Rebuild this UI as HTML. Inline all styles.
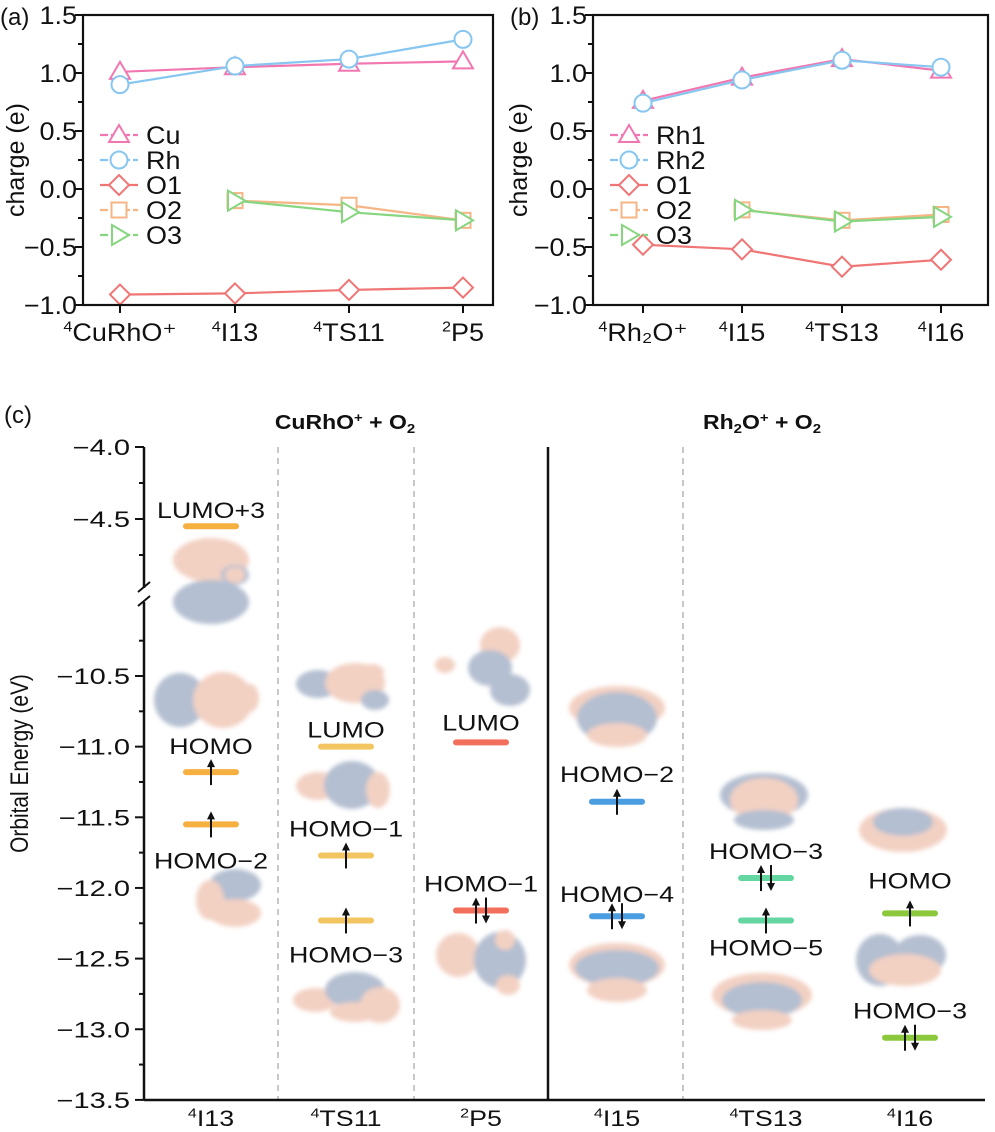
<!DOCTYPE html>
<html><head><meta charset="utf-8">
<style>
html,body{margin:0;padding:0;background:#fff;}
svg{display:block;font-family:"Liberation Sans",Arial,sans-serif;}
</style></head>
<body>
<svg id="fig" width="995" height="1132" viewBox="0 0 995 1132" xmlns="http://www.w3.org/2000/svg">
<defs>
<filter id="blur" x="-30%" y="-30%" width="160%" height="160%"><feGaussianBlur stdDeviation="2.2"/></filter>
</defs>
<g id="pa"></g>
<g id="pb"></g>
<g id="pc"></g>
</svg>
<script>
// ---------- Panel (a) / (b) data ----------
const catsA = ["4|CuRhO⁺", "4|I13", "4|TS11", "2|P5"];
const cuA = [1.01, 1.05, 1.08, 1.10];
const rhA = [0.90, 1.06, 1.12, 1.29];
const o1A = [-0.91, -0.90, -0.87, -0.85];
const o2A = [null, -0.10, -0.14, -0.27];
const o3A = [null, -0.10, -0.20, -0.27];
const namesA = ["Cu", "Rh", "O1", "O2", "O3"];

const catsB = ["4|Rh₂O⁺", "4|I15", "4|TS13", "4|I16"];
const rh1B = [0.76, 0.96, 1.12, 1.02];
const rh2B = [0.74, 0.94, 1.11, 1.05];
const o1B = [-0.48, -0.52, -0.67, -0.61];
const o2B = [null, -0.18, -0.27, -0.22];
const o3B = [null, -0.18, -0.28, -0.24];
const namesB = ["Rh1", "Rh2", "O1", "O2", "O3"];

const chargeTicks = [1.5, 1.0, 0.5, 0.0, -0.5, -1.0];

// ---------- Panel (c) data ----------
const statesC = ["4|I13", "4|TS11", "2|P5", "4|I15", "4|TS13", "4|I16"];
const levelColumn = [0, 0, 0, 1, 1, 1, 2, 2, 3, 3, 4, 4, 5, 5];
const levelEnergy = [-4.55, -11.18, -11.55, -11.00, -11.77, -12.23, -10.97, -12.16, -11.39, -12.20, -11.93, -12.23, -12.18, -13.06];
const levelName = ["LUMO+3", "HOMO", "HOMO−2", "LUMO", "HOMO−1", "HOMO−3", "LUMO", "HOMO−1", "HOMO−2", "HOMO−4", "HOMO−3", "HOMO−5", "HOMO", "HOMO−3"];
const levelSpin = [0, 1, 1, 0, 1, 1, 0, 2, 1, 2, 2, 1, 1, 2];
const energyTicks = [-4.0, -4.5, -10.5, -11.0, -11.5, -12.0, -12.5, -13.0, -13.5];

const NS = "http://www.w3.org/2000/svg";
function mk(parent, tag, attrs, text) {
  const e = document.createElementNS(NS, tag);
  for (const k in attrs) e.setAttribute(k, attrs[k]);
  if (text !== undefined) e.textContent = text;
  parent.appendChild(e);
  return e;
}
function supLabel(parent, x, y, lab, size, anchor, sx) {
  const [sup, main] = lab.split("|");
  const t = mk(parent, "text", {transform: `translate(${x},${y}) scale(${sx||1},1)`, "text-anchor": anchor||"middle", "font-size": size, fill: "#111"});
  mk(t, "tspan", {"font-size": size*0.6, dy: -size*0.38}, sup);
  mk(t, "tspan", {dy: size*0.38}, main);
  return t;
}

const colors = ["#f277b0", "#86c6f0", "#f07575", "#f5b585", "#86d680"];
const shapes = ["tri", "circ", "diam", "sq", "rtri"];
function marker(g, shape, x, y, col) {
  let el;
  if (shape === "tri") el = mk(g, "polygon", {points: `${x},${y-10} ${x-10},${y+7} ${x+10},${y+7}`});
  else if (shape === "circ") el = mk(g, "circle", {cx: x, cy: y, r: 8.5});
  else if (shape === "diam") el = mk(g, "polygon", {points: `${x},${y-10} ${x+10},${y} ${x},${y+10} ${x-10},${y}`});
  else if (shape === "sq") el = mk(g, "rect", {x: x-7.5, y: y-7.5, width: 15, height: 15});
  else el = mk(g, "polygon", {points: `${x-7},${y-10} ${x+10},${y} ${x-7},${y+10}`});
  el.setAttribute("fill", "#fff");
  el.setAttribute("stroke", col);
  el.setAttribute("stroke-width", "2");
  return el;
}

function chargePanel(g, box, cats, series, names, letter, titleX) {
  const [L, T, R, B] = box;
  const xs = [box[4], box[5], box[6], box[7]];
  const yS = v => T + (1.5 - v) / 2.5 * (B - T);
  const xS = i => xs[i];
  series.forEach((arr, si) => {
    const sg = mk(g, "g", {});
    
    
    let pts = [];
    arr.forEach((v, i) => { if (v !== null) pts.push([xS(i), yS(v)]); });
    mk(sg, "polyline", {points: pts.map(p => p.join(",")).join(" "), fill: "none", stroke: colors[si], "stroke-width": 2.2});
    pts.forEach(p => marker(sg, shapes[si], p[0], p[1], colors[si]));
  });
  const fr = mk(g, "rect", {x: L, y: T, width: R - L, height: B - T, fill: "none", stroke: "#111", "stroke-width": 2.2});
  
  
  for (let v = -1.0; v <= 1.5001; v += 0.25) {
    const y = yS(v);
    const major = Math.abs(v * 2 - Math.round(v * 2)) < 1e-6;
    mk(g, "line", {x1: L - (major ? 8 : 5), x2: L, y1: y, y2: y, stroke: "#111", "stroke-width": 2});
  }
  chargeTicks.forEach(v => {
    const t = mk(g, "text", {transform: `translate(${L - 6},${yS(v) + 9}) scale(1.08,1)`, "text-anchor": "end", "font-size": 25, fill: "#111"}, (v < 0 ? "−" : "") + Math.abs(v).toFixed(1));
    
    
  });
  cats.forEach((c, i) => {
    mk(g, "line", {x1: xS(i), x2: xS(i), y1: B, y2: B + 8, stroke: "#111", "stroke-width": 2});
    const t = supLabel(g, xS(i), B + 36, c, 25, "middle", 1.08);
    
    
  });
  const yt = mk(g, "text", {transform: `translate(${titleX},${(T + B) / 2}) rotate(-90)`, "text-anchor": "middle", "font-size": 25, fill: "#111"}, "charge (e)");
  
  
  const pl = mk(g, "text", {x: L - 83, y: T + 10, "font-size": 24, fill: "#111"}, letter);
  
  
  const lg = mk(g, "g", {});
  
  
  names.forEach((n, i) => {
    const y = 135 + i * 25;
    const x0 = L + 17;
    mk(lg, "line", {x1: x0, x2: x0 + 38, y1: y, y2: y, stroke: colors[i], "stroke-width": 2.2, "stroke-dasharray": (i===2)?"none":"8 3"});
    marker(lg, shapes[i], x0 + 19, y, colors[i]);
    const t = mk(lg, "text", {transform: `translate(${x0 + 46},${y + 9}) scale(1.08,1)`, "font-size": 25, fill: "#111"}, n);
    
    
  });
}

chargePanel(document.getElementById("pa"), [83, 15, 493, 305, 120, 235, 349, 463], catsA, [cuA, rhA, o1A, o2A, o3A], namesA, "(a)", 24);
chargePanel(document.getElementById("pb"), [593, 15, 988, 305, 643, 742, 842, 941], catsB, [rh1B, rh2B, o1B, o2B, o3B], namesB, "(b)", 527);

// ---------- Panel (c) ----------
const gc = document.getElementById("pc");
const AX = 144, TOP = 447, BOT = 1100, RIGHT = 985;
const SX = 1.22;
function yE(E) {
  if (E > -6) return 447 + (-4 - E) * 144;
  return 676 + (-10.5 - E) * 141.3;
}
const colX = [211, 346, 481, 617, 766, 910];
const colColor = ["#f5b040", "#f3c560", "#f26f5c", "#4a9de0", "#63d6a2", "#8cc83c"];

[278, 414, 683].forEach(x => {
  const l = mk(gc, "line", {x1: x, x2: x, y1: TOP, y2: BOT, stroke: "#c8c8c8", "stroke-width": 2, "stroke-dasharray": "6 5"});
  
  
});
const sep = mk(gc, "line", {x1: 548, x2: 548, y1: TOP, y2: BOT, stroke: "#111", "stroke-width": 2.5});



const P = "#f2cfc0", Bl = "#b0bccf";
const orbs = [
  [[211,560,38,22,P],[211,602,38,22,Bl],[235,575,14,10,Bl],[235,575,10,8,P]],
  [[180,700,26,27,Bl],[223,700,30,28,P],[250,698,9,14,P]],
  [[235,885,26,16,Bl],[235,913,26,14,P],[210,900,14,20,P]],
  [[318,684,22,14,Bl],[355,683,30,20,P],[375,700,14,10,Bl],[372,672,12,8,P]],
  [[318,786,22,14,P],[352,785,28,24,Bl],[378,790,12,18,P]],
  [[315,1000,22,12,P],[355,990,30,18,Bl],[380,1005,20,18,P],[355,1012,25,10,P]],
  [[500,645,20,18,P],[490,668,22,18,Bl],[510,690,20,16,Bl],[445,665,10,8,P]],
  [[458,955,22,22,P],[500,960,26,28,Bl],[505,940,10,10,P],[508,985,12,10,P]],
  [[617,708,48,22,P],[617,718,40,26,Bl],[617,735,30,12,P]],
  [[617,965,48,22,P],[617,968,42,18,Bl],[617,990,30,12,P]],
  [[764,795,44,22,Bl],[764,800,34,22,P],[764,820,30,10,Bl]],
  [[762,995,50,22,P],[762,1000,40,18,Bl],[762,1020,30,10,P]],
  [[903,830,44,22,P],[903,822,30,14,Bl]],
  [[880,960,24,26,Bl],[920,955,26,20,Bl],[905,970,36,16,P]]
];
const og = mk(gc, "g", {filter: "url(#blur)", opacity: 0.95});


orbs.forEach(o => o.forEach(b => mk(og, "ellipse", {cx: b[0], cy: b[1], rx: b[2], ry: b[3], fill: b[4]})));

const ax = mk(gc, "line", {x1: AX, x2: AX, y1: TOP, y2: BOT, stroke: "#111", "stroke-width": 2.5});


const bx = mk(gc, "line", {x1: AX, x2: RIGHT, y1: BOT, y2: BOT, stroke: "#111", "stroke-width": 2.5});


mk(gc, "rect", {x: AX - 6, y: 588, width: 12, height: 14, fill: "#fff"});
mk(gc, "line", {x1: AX - 6, x2: AX + 6, y1: 592, y2: 582, stroke: "#111", "stroke-width": 2});
mk(gc, "line", {x1: AX - 6, x2: AX + 6, y1: 606, y2: 596, stroke: "#111", "stroke-width": 2});
[-4.0, -4.25, -4.5, -4.75].forEach(E => {
  const maj = Math.abs(E * 2 - Math.round(E * 2)) < 1e-6;
  mk(gc, "line", {x1: AX - (maj ? 9 : 5), x2: AX, y1: yE(E), y2: yE(E), stroke: "#111", "stroke-width": 2});
});
for (let E = -10.25; E >= -13.5001; E -= 0.25) {
  const maj = Math.abs(E * 2 - Math.round(E * 2)) < 1e-6;
  mk(gc, "line", {x1: AX - (maj ? 9 : 5), x2: AX, y1: yE(E), y2: yE(E), stroke: "#111", "stroke-width": 2});
}
energyTicks.forEach(E => {
  const t = mk(gc, "text", {transform: `translate(${AX - 14},${yE(E) + 8}) scale(1.32,1)`, "text-anchor": "end", "font-size": 22, fill: "#111"}, "−" + Math.abs(E).toFixed(1));
  
  
});
const yt = mk(gc, "text", {transform: `translate(28,${(TOP + BOT) / 2 - 10}) rotate(-90) scale(0.95,1.15)`, "text-anchor": "middle", "font-size": 22, fill: "#111"}, "Orbital Energy (eV)");


statesC.forEach((s, i) => {
  const t = supLabel(gc, colX[i], 1126, s, 22, "middle", SX);
  
  
});
const t1 = mk(gc, "text", {transform: "translate(345,429) scale(1.15,1)", "text-anchor": "middle", "font-size": 20, "font-weight": "bold", fill: "#111"});


t1.innerHTML = 'CuRhO<tspan font-size="13" dy="-7">+</tspan><tspan dy="7"> + O</tspan><tspan font-size="13" dy="4">2</tspan>';
const t2 = mk(gc, "text", {transform: "translate(762,429) scale(1.15,1)", "text-anchor": "middle", "font-size": 20, "font-weight": "bold", fill: "#111"});


t2.innerHTML = 'Rh<tspan font-size="13" dy="4">2</tspan><tspan dy="-4">O</tspan><tspan font-size="13" dy="-7">+</tspan><tspan dy="7"> + O</tspan><tspan font-size="13" dy="4">2</tspan>';
const pcl = mk(gc, "text", {x: 4, y: 423, "font-size": 24, fill: "#111"}, "(c)");



const labelDy = [-16, -26, 36, -17, -27, 34, -20, -27, -28, -22, -27, 27, -33, -27];
function arrow(g, x, y, up) {
  const h = 26;
  const y1 = y + h / 2, y2 = y - h / 2;
  if (up) {
    mk(g, "line", {x1: x, x2: x, y1: y1, y2: y2 + 5, stroke: "#111", "stroke-width": 2});
    mk(g, "polygon", {points: `${x},${y2} ${x-4},${y2+8} ${x+4},${y2+8}`, fill: "#111"});
  } else {
    mk(g, "line", {x1: x, x2: x, y1: y2, y2: y1 - 5, stroke: "#111", "stroke-width": 2});
    mk(g, "polygon", {points: `${x},${y1} ${x-4},${y1-8} ${x+4},${y1-8}`, fill: "#111"});
  }
}
levelEnergy.forEach((E, i) => {
  const c = levelColumn[i];
  const x = colX[c], y = yE(E);
  const lg = mk(gc, "g", {});
  
  
  mk(lg, "line", {x1: x - 25, x2: x + 25, y1: y, y2: y, stroke: colColor[c], "stroke-width": 6, "stroke-linecap": "round"});
  if (levelSpin[i] === 1) arrow(lg, x, y, true);
  if (levelSpin[i] === 2) { arrow(lg, x - 5, y, true); arrow(lg, x + 5, y, false); }
  const t = mk(lg, "text", {transform: `translate(${x},${y + labelDy[i] + 8}) scale(${SX},1)`, "text-anchor": "middle", "font-size": 22, fill: "#111"}, levelName[i]);
  
  
});
</script>
</body></html>
